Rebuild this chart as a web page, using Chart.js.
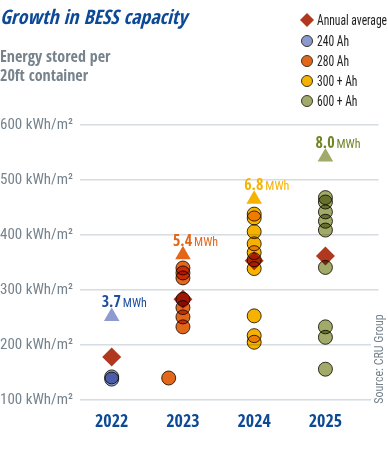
<!DOCTYPE html>
<html lang="en">
<head>
  <meta charset="UTF-8">
  <title>Growth in BESS capacity</title>
  <script src="https://cdn.jsdelivr.net/npm/chart.js"></script>
  <style>
    html, body { margin: 0; padding: 0; background: #fff; }
    #wrap { width: 388px; height: 450px; position: relative; }
  </style>
</head>
<body>
<div id="wrap"><canvas id="bessChart"></canvas></div>

<script>
  // values (kWh/m2)
  var years = [2022, 2023, 2024, 2025];
  var annualAvg = [178, 283, 353, 362];
  var containerLevel = [252, 364, 465, 542];   // triangles
  var mwhLabels = ['3.7', '5.4', '6.8', '8.0'];

  // [year, kWh/m2]
  var ah240 = [[2022, 142], [2022, 138]];
  var ah280 = [[2022.8, 140], [2023, 340], [2023, 331], [2023, 322],
               [2023, 283], [2023, 268], [2023, 251], [2023, 233]];
  var ah300 = [[2024, 438], [2024, 431], [2024, 406], [2024, 384], [2024, 368],
               [2024, 355], [2024, 339], [2024, 253], [2024, 217], [2024, 205]];
  var ah600 = [[2025, 468], [2025, 460], [2025, 442], [2025, 425], [2025, 409],
               [2025, 341], [2025, 233], [2025, 214], [2025, 156]];

  var yTicks = [100, 200, 300, 400, 500, 600];

  var BOLD_FONT = '"Open Sans Condensed", "Roboto Condensed", sans-serif';
  var FONT = '"Roboto Condensed", sans-serif';
  var BLUE = '#0d4a96';
  var GREY = '#76838d';

  var seriesColors = { avg: '#b0381f', a240: '#8a9ad0', a280: '#e3671b', a300: '#f7b200', a600: '#a2aa6a' };
  var triColors = ['#8d9bd0', '#e3671b', '#f7b200', '#a2aa6a'];
  var labelColors = ['#1d4f9c', '#e3671b', '#f7b200', '#6e8527'];
  var edge = '#3b3528';

  function toPts(arr) {
    return arr.map(function(p) { return { x: p[0], y: p[1] }; });
  }

  function circleSet(label, arr, color) {
    return {
      label: label,
      data: toPts(arr),
      pointStyle: 'circle',
      pointRadius: 7,
      pointBackgroundColor: color,
      pointBorderColor: edge,
      pointBorderWidth: 1
    };
  }

  // multiply blending so overlapping dots darken like the original
  var blendPlugin = {
    id: 'blend',
    beforeDatasetsDraw: function(chart) {
      chart.ctx.save();
      chart.ctx.globalCompositeOperation = 'multiply';
    },
    afterDatasetsDraw: function(chart) {
      chart.ctx.restore();
    }
  };

  var decorPlugin = {
    id: 'decor',
    afterDraw: function(chart) {
      var ctx = chart.ctx;
      var xs = chart.scales.x, ys = chart.scales.y;
      ctx.save();

      // title + subtitle
      ctx.textBaseline = 'middle';
      ctx.textAlign = 'left';
      ctx.fillStyle = BLUE;
      ctx.font = 'italic bold 20px ' + BOLD_FONT;
      ctx.fillText('Growth in BESS capacity', 0, 19);
      ctx.fillStyle = GREY;
      ctx.font = 'bold 16px ' + BOLD_FONT;
      ctx.fillText('Energy stored per', 0, 58);
      ctx.fillText('20ft container', 0, 77);

      // legend
      var legend = [
        ['Annual average', 'diamond', seriesColors.avg],
        ['240 Ah', 'circle', seriesColors.a240],
        ['280 Ah', 'circle', seriesColors.a280],
        ['300 + Ah', 'circle', seriesColors.a300],
        ['600 + Ah', 'circle', seriesColors.a600]
      ];
      var rowY = [20, 41, 61, 81, 101];
      ctx.font = '14px ' + FONT;
      var squeeze = Math.min(1, 70 / ctx.measureText('Annual average').width);
      legend.forEach(function(item, i) {
        var cy = rowY[i], cx = 307;
        ctx.beginPath();
        if (item[1] === 'diamond') {
          ctx.moveTo(cx, cy - 7); ctx.lineTo(cx + 7, cy); ctx.lineTo(cx, cy + 7); ctx.lineTo(cx - 7, cy);
          ctx.closePath();
          ctx.fillStyle = item[2];
          ctx.fill();
        } else {
          ctx.arc(cx, cy, 5.5, 0, Math.PI * 2);
          ctx.fillStyle = item[2];
          ctx.fill();
          ctx.lineWidth = 1;
          ctx.strokeStyle = edge;
          ctx.stroke();
        }
        ctx.save();
        ctx.translate(317, cy + 1);
        ctx.scale(squeeze, 1);
        ctx.fillStyle = '#222';
        ctx.fillText(item[0], 0, 0);
        ctx.restore();
      });

      // MWh labels over the triangles
      ctx.textBaseline = 'alphabetic';
      years.forEach(function(yr, i) {
        var px = xs.getPixelForValue(yr) - 10;
        var py = ys.getPixelForValue(containerLevel[i]) - 9;
        ctx.fillStyle = labelColors[i];
        ctx.font = 'bold 16px ' + BOLD_FONT;
        ctx.fillText(mwhLabels[i], px, py);
        var w = ctx.measureText(mwhLabels[i]).width;
        ctx.font = '12px ' + FONT;
        ctx.fillText('MWh', px + w + 2, py);
      });

      // source note
      ctx.fillStyle = '#fff';
      ctx.fillRect(371, 310, 17, 94);
      ctx.translate(380, 359);
      ctx.rotate(-Math.PI / 2);
      ctx.textAlign = 'center';
      ctx.textBaseline = 'middle';
      ctx.fillStyle = GREY;
      ctx.font = '12px ' + FONT;
      ctx.fillText('Source: CRU Group', 0, 0);
      ctx.restore();
    }
  };

  var bessCtx = document.getElementById('bessChart').getContext('2d');

  new Chart(bessCtx, {
    type: 'scatter',
    data: {
      datasets: [
        {
          label: 'Annual average',
          data: years.map(function(yr, i) { return { x: yr, y: annualAvg[i] }; }),
          pointStyle: 'rectRot',
          pointRadius: 9.5,
          pointBackgroundColor: seriesColors.avg,
          pointBorderWidth: 0
        },
        {
          label: 'Container',
          data: years.map(function(yr, i) { return { x: yr, y: containerLevel[i] }; }),
          pointStyle: 'triangle',
          pointRadius: 9,
          pointBackgroundColor: triColors,
          pointBorderWidth: 0
        },
        circleSet('240 Ah', ah240, seriesColors.a240),
        circleSet('280 Ah', ah280, seriesColors.a280),
        circleSet('300 + Ah', ah300, seriesColors.a300),
        circleSet('600 + Ah', ah600, seriesColors.a600)
      ]
    },
    options: {
      responsive: true,
      maintainAspectRatio: false,
      animation: false,
      events: [],
      layout: { padding: { top: 125, left: 0, right: 0, bottom: 0 } },
      plugins: {
        legend: { display: false },
        tooltip: { enabled: false }
      },
      scales: {
        x: {
          type: 'linear',
          min: 2021.555,
          max: 2025.745,
          afterBuildTicks: function(scale) {
            scale.ticks = years.map(function(v) { return { value: v }; });
          },
          afterFit: function(scale) { scale.height = 50; },
          grid: { display: false, drawTicks: false },
          border: { display: false },
          ticks: {
            padding: 11,
            color: BLUE,
            font: { family: BOLD_FONT, size: 18, weight: 'bold' },
            callback: function(v) { return String(v); }
          }
        },
        y: {
          min: 100,
          max: 600,
          afterBuildTicks: function(scale) {
            scale.ticks = yTicks.map(function(v) { return { value: v }; });
          },
          afterFit: function(scale) { scale.width = 80; },
          grid: { color: '#d6dce1', lineWidth: 1.6, drawTicks: false },
          border: { display: false },
          ticks: {
            crossAlign: 'far',
            padding: 8,
            color: GREY,
            font: { family: FONT, size: 15 },
            callback: function(v) { return v + ' kWh/m²'; }
          }
        }
      }
    },
    plugins: [blendPlugin, decorPlugin]
  });
</script>
</body>
</html>
